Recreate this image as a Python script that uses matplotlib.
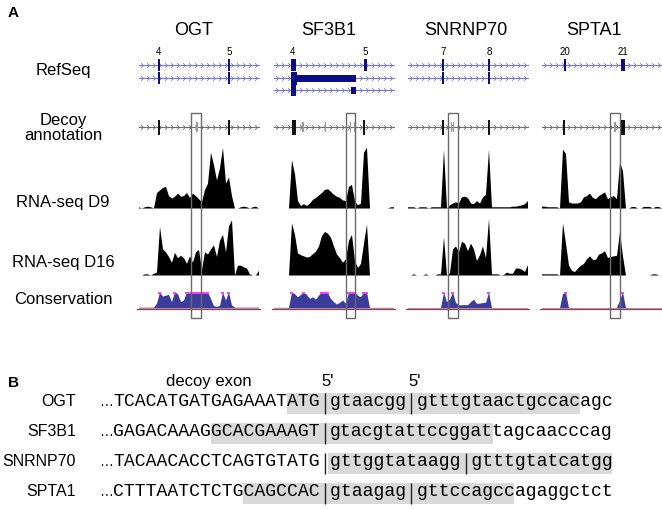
"""
Decoy exon figure: genome browser tracks (A) and splice-site sequences (B).
"""
import numpy as np
import matplotlib
matplotlib.use("Agg")
import matplotlib.pyplot as plt
from matplotlib.patches import Rectangle
from matplotlib.path import Path

W, H = 662, 509
SANS = "Liberation Sans"
MONO = "Liberation Mono"

# ------------------------------------------------------------------------------
# Panel A data (positions along each gene window, ~1 unit per pixel)
# ------------------------------------------------------------------------------
GENES = ["OGT", "SF3B1", "SNRNP70", "SPTA1"]
EXON_LABELS = [["4", "5"], ["4", "5"], ["7", "8"], ["20", "21"]]
EXON_POS = [[22, 92], [21, 93], [37, 83], [25, 83]]

# RefSeq transcripts: (start, end, block height)
REFSEQ = [
    [[(21.3, 22.7, 12), (91.3, 92.7, 12)],
     [(21.3, 22.7, 12), (91.3, 92.7, 12)]],
    [[(19, 24, 12), (92.3, 94.7, 12)],
     [(19, 25, 13), (25, 84, 7)],
     [(19.3, 23.7, 12), (79, 84, 7)]],
    [[(36.3, 37.7, 12), (82.3, 83.7, 12)],
     [(36.3, 37.7, 12), (82.3, 83.7, 12)]],
    [[(23.7, 26, 12), (81, 85, 12)]],
]

# Decoy annotation: (centre, width, kind) k = annotated exon, g = decoy exon
DECOY = [
    [(22, 1.5, "k"), (60, 2.5, "g"), (92, 1.5, "k")],
    [(21.5, 4, "k"), (31, 1.5, "g"), (53, 1, "g"), (78.5, 1.5, "g"), (82, 1, "g"), (92, 2.5, "k")],
    [(37, 1.5, "k"), (45, 1, "g"), (47.5, 1, "g"), (83, 1.5, "k")],
    [(24, 2.5, "k"), (75, 2, "g"), (83, 4, "k")],
]
DECOY_BOX = [(54, 64), (74, 83), (42, 52), (70, 80)]

D9 = [
    [0.02, 0, 0.02, 0.03, 0.02, 0, 0.25, 0.29, 0.33, 0.35, 0.2, 0.16, 0.19, 0.24,
     0.19, 0.2, 0.25, 0.17, 0.24, 0.2, 0.15, 0.1, 0.3, 0.4, 0.9, 0.7, 0.45, 0.65,
     0.98, 0.4, 0.5, 0.2, 0, 0, 0.02, 0.03, 0.02, 0, 0.02, 0.03, 0],
    [0, 0, 0, 0, 0, 0, 0.78, 0.55, 0.12, 0.04, 0.07, 0.04, 0.08, 0.14, 0.17, 0.21,
     0.25, 0.3, 0.31, 0.27, 0.22, 0.19, 0.17, 0.13, 0.12, 0.35, 0.38, 0.12, 0.05,
     0.08, 0.9, 0.98, 0, 0, 0, 0, 0, 0, 0, 0.02, 0.02],
    [0.02, 0.02, 0.02, 0, 0.02, 0.02, 0.02, 0, 0.02, 0.02, 0.02, 0.02, 0.95, 0,
     0.05, 0.08, 0.1, 0.08, 0.18, 0.19, 0.17, 0.08, 0.07, 0.12, 0.08, 0.18, 0.22,
     0.95, 0.02, 0.02, 0.02, 0.02, 0.02, 0.02, 0.02, 0.03, 0.03, 0.04, 0.05, 0.07, 0.12],
    [0.03, 0.03, 0.02, 0.02, 0.02, 0.02, 0, 0.95, 0.88, 0.1, 0.08, 0.08, 0.08, 0.1,
     0.18, 0.2, 0.24, 0.17, 0.15, 0.2, 0.23, 0.26, 0.15, 0.18, 0.2, 0.15, 0.75, 0.6,
     0, 0, 0.025, 0.025, 0, 0, 0.025, 0.025, 0.025, 0, 0.025, 0.025, 0],
]
D16 = [
    [0, 0, 0.02, 0.02, 0, 0.03, 0.05, 0.84, 0.45, 0.4, 0.32, 0.22, 0.39, 0.3, 0.34,
     0.3, 0.2, 0.33, 0.22, 0.4, 0.44, 0.1, 0.4, 0.36, 0.45, 0.52, 0.32, 0.6, 0.7,
     0.4, 0.85, 0.95, 0, 0.17, 0.17, 0.14, 0.12, 0.02, 0, 0, 0.08],
    [0, 0, 0, 0, 0, 0, 0.9, 0.7, 0.38, 0.35, 0.33, 0.31, 0.32, 0.37, 0.41, 0.5,
     0.68, 0.75, 0.72, 0.65, 0.5, 0.36, 0.3, 0.22, 0.28, 0.6, 0.7, 0.25, 0.13, 0.2,
     0.55, 0.88, 0, 0, 0, 0, 0, 0, 0, 0, 0],
    [0, 0, 0.02, 0, 0, 0, 0.02, 0, 0, 0, 0.02, 0.02, 0.66, 0, 0.04, 0.45, 0.5, 0.4,
     0.58, 0.55, 0.42, 0.55, 0.45, 0.25, 0.35, 0.5, 0.3, 0.98, 0.02, 0.02, 0.02, 0,
     0.01, 0.05, 0.03, 0.03, 0.12, 0.12, 0.1, 0.06, 0.18],
    [0.02, 0.02, 0.02, 0.02, 0.02, 0.02, 0, 0.9, 0.55, 0.17, 0.08, 0.06, 0.12, 0.17,
     0.2, 0.28, 0.33, 0.27, 0.27, 0.36, 0.38, 0.42, 0.3, 0.32, 0.33, 0.34, 0.75,
     0.33, 0, 0, 0, 0, 0, 0, 0, 0, 0, 0.02, 0.02, 0, 0],
]
CONS = [
    [0.05, 0.05, 0.05, 0.05, 0.05, 0.05, 0.3, 1.0, 0.75, 0.8, 0.85, 0.4, 1.0, 0.9,
     0.4, 0.5, 1.0, 0.95, 1.0, 1.0, 1.0, 1.0, 1.0, 1.0, 0.6, 0.15, 0.1, 0.15, 1.0,
     0.5, 1.0, 0.2, 0.05, 0.05, 0.05, 0.05, 0.05, 0.05, 0.05, 0.05, 0.05],
    [0.04, 0.04, 0.04, 0.04, 0.04, 0.04, 1.0, 0.9, 0.7, 0.85, 1.0, 0.85, 0.6, 0.7,
     0.55, 0.8, 1.0, 1.0, 0.95, 0.6, 0.4, 0.25, 0.35, 0.5, 0.3, 1.0, 1.0, 1.0, 0.8,
     0.7, 1.0, 1.0, 0.04, 0.04, 0.04, 0.04, 0.04, 0.04, 0.04, 0.04, 0.04],
    [0.03, 0.03, 0.03, 0.03, 0.03, 0.03, 0.03, 0.03, 0.03, 0.03, 0.03, 0.03, 1.0,
     0.4, 0.55, 1.0, 0.35, 0.2, 0.2, 0.22, 0.2, 0.4, 0.55, 0.3, 0.3, 0.35, 0.35,
     1.0, 0.03, 0.03, 0.03, 0.03, 0.03, 0.03, 0.03, 0.03, 0.03, 0.03, 0.03, 0.03, 0.03],
    [0.03, 0.03, 0.03, 0.03, 0.03, 0.03, 0.03, 0.9, 1.0, 0.03, 0.03, 0.03, 0.03,
     0.03, 0.03, 0.03, 0.03, 0.03, 0.03, 0.03, 0.03, 0.03, 0.03, 0.03, 0.03, 0.03,
     0.5, 1.0, 0.03, 0.03, 0.03, 0.03, 0.03, 0.03, 0.03, 0.03, 0.03, 0.03, 0.03, 0.03, 0.03],
]

TRACK_LABELS = ["RefSeq", "Decoy\nannotation", "RNA-seq D9", "RNA-seq D16", "Conservation"]

# ------------------------------------------------------------------------------
# Panel B data
# ------------------------------------------------------------------------------
SEQ_NAMES = ["OGT", "SF3B1", "SNRNP70", "SPTA1"]
UPSTREAM = ["TCACATGATGAGAAATATG", "GAGACAAAGGCACGAAAGT",
            "TACAACACCTCAGTGTATG", "CTTTAATCTCTGCAGCCAC"]
DOWNSTREAM = ["gtaacgggtttgtaactgccacagc", "gtacgtattccggattagcaacccag",
              "gttggtataagggtttgtatcatgg", "gtaagaggttccagccagaggctct"]
UP_SHADE_FROM = [16, 9, 19, 12]       # index in upstream where grey starts
DOWN_SHADE_TO = [22, 15, 25, 16]      # index in downstream where grey ends
SECOND_SITE = [7, None, 12, 7]        # alternative 5' site inside downstream

# ------------------------------------------------------------------------------
# Layout (pixels)
# ------------------------------------------------------------------------------
PANEL_X = [137, 272, 406, 540]
BIN = 3
SPAN = (2, 122)
REF_Y = [65, 78, 90]
DECOY_Y = 127
D9_BASE, D9_H = 208, 62
D16_BASE, D16_H = 275, 58
CONS_BASE, CONS_H = 308, 16
BOX_TOP, BOX_BOT = 113, 318

REF_LINE = "#7676d2"
REF_EXON = "#0c0c86"
CONS_BLUE = "#3c3c9c"

chevron = Path([(-0.6, 1), (0.4, 0), (-0.6, -1)],
               [Path.MOVETO, Path.LINETO, Path.LINETO])


def gene_line(ax, x0, y, color):
    ax.plot([x0 + SPAN[0], x0 + SPAN[1]], [y, y], color=color, lw=0.8, zorder=2)
    xs = np.arange(x0 + SPAN[0] + 3, x0 + SPAN[1], 6)
    ax.plot(xs, np.full(len(xs), y), ls="none", marker=chevron, ms=3.2,
            mew=0.6, mec=color, mfc="none", zorder=2)


fig = plt.figure(figsize=(W / 100, H / 100), dpi=100)
ax = fig.add_axes([0, 0, 1, 1])
ax.set_xlim(0, W)
ax.set_ylim(H, 0)
ax.axis("off")

ax.text(8, 17, "A", fontsize=11, fontweight="bold", family=SANS)
for label, y in zip(TRACK_LABELS, [70, 128, 203, 262, 300]):
    ax.text(63, y, label, ha="center", va="center", fontsize=12,
            family=SANS, linespacing=1.05)

for g, gene in enumerate(GENES):
    x0 = PANEL_X[g]
    ax.text(x0 + np.mean(EXON_POS[g]), 35, gene, ha="center", va="baseline",
            fontsize=13, family=SANS)
    for lab, pos in zip(EXON_LABELS[g], EXON_POS[g]):
        ax.text(x0 + pos, 55, lab, ha="center", va="baseline", fontsize=7, family=SANS)

    # RefSeq
    for t, blocks in enumerate(REFSEQ[g]):
        y = REF_Y[t]
        gene_line(ax, x0, y, REF_LINE)
        for s, e, h in blocks:
            ax.add_patch(Rectangle((x0 + s, y - h / 2), e - s, h, color=REF_EXON,
                                   lw=0, zorder=3))

    # decoy annotation
    gene_line(ax, x0, DECOY_Y, "#6e6e6e")
    for c, w, kind in DECOY[g]:
        h = 15 if kind == "k" else 10
        col = "#111111" if kind == "k" else "#9a9a9a"
        ax.add_patch(Rectangle((x0 + c - w / 2, DECOY_Y - h / 2), w, h, color=col,
                               lw=0, zorder=3))

    # RNA-seq coverage
    xs = x0 + (np.arange(len(D9[g])) + 0.5) * BIN
    for vals, base, hh in ((D9[g], D9_BASE, D9_H), (D16[g], D16_BASE, D16_H)):
        v = np.asarray(vals)
        ax.fill_between(xs, base, base - v * hh, color="black", lw=0, zorder=2)

    # conservation
    v = np.asarray(CONS[g])
    ax.plot([xs[0] - 1.5, xs[-1] + 1.5], [CONS_BASE + 0.5] * 2, color="#a83a3a",
            lw=0.9, zorder=2)
    ax.fill_between(xs, CONS_BASE, CONS_BASE - v * CONS_H, color=CONS_BLUE,
                    lw=0, zorder=3)
    top = v >= 0.95
    ax.hlines(CONS_BASE - v[top] * CONS_H + 0.6, xs[top] - 1.6, xs[top] + 1.6,
              color="#ff3cff", lw=1.4, zorder=4)

    # highlight box around decoy exon
    b0, b1 = DECOY_BOX[g]
    ax.add_patch(Rectangle((x0 + b0, BOX_TOP), b1 - b0, BOX_BOT - BOX_TOP,
                           fill=False, ec="#6a6a6a", lw=1.0, zorder=5))

# ------------------------------------------------------------------------------
# Panel B: every character (and each "|" site) takes one monospace cell
# ------------------------------------------------------------------------------
C = 10.85                 # px per monospace cell
MONO_PT = C / 0.6 * 0.72
SEQ_X = 113               # left edge of first upstream cell
ROW_Y0, ROW_DY = 405.5, 30


def cell_x(i):
    return SEQ_X + i * C


ax.text(8, 387, "B", fontsize=11, fontweight="bold", family=SANS)
ax.text(209, 386, "decoy exon", ha="center", fontsize=12, family=SANS)

for i, name in enumerate(SEQ_NAMES):
    yb = ROW_Y0 + i * ROW_DY
    up, down = UPSTREAM[i], DOWNSTREAM[i]
    site2 = SECOND_SITE[i]
    # downstream string with an empty cell where the second 5' site sits
    if site2 is not None:
        down_txt = down[:site2] + " " + down[site2:]
    else:
        down_txt = down
    bars = [len(up)]
    if site2 is not None:
        bars.append(len(up) + 1 + site2)

    s = UP_SHADE_FROM[i]
    x_from = cell_x(s) if s < len(up) else cell_x(len(up) + 1) - 2
    end = DOWN_SHADE_TO[i] + (1 if site2 is not None and DOWN_SHADE_TO[i] > site2 else 0)
    x_to = cell_x(len(up) + 1 + end)
    ax.add_patch(Rectangle((x_from, yb - 12.5), x_to - x_from, 21,
                           color="#d9d9d9", lw=0, zorder=1))

    ax.text(76, yb, name, ha="right", va="baseline", fontsize=11.5, family=SANS)
    ax.text(99, yb, "\u2026", ha="left", va="baseline", fontsize=10, family=SANS)
    ax.text(cell_x(0), yb, up, ha="left", va="baseline", fontsize=MONO_PT, family=MONO)
    ax.text(cell_x(len(up) + 1), yb, down_txt, ha="left", va="baseline",
            fontsize=MONO_PT, family=MONO)
    for b in bars:
        ax.vlines(cell_x(b + 0.5), yb - 12.5, yb + 8.5, color="#222222", lw=1.0, zorder=3)
    if i == 0:
        for b in bars:
            ax.text(cell_x(b + 0.5) + 3, 386, "5'", ha="center", fontsize=12, family=SANS)

fig.savefig("out.png", dpi=100)
